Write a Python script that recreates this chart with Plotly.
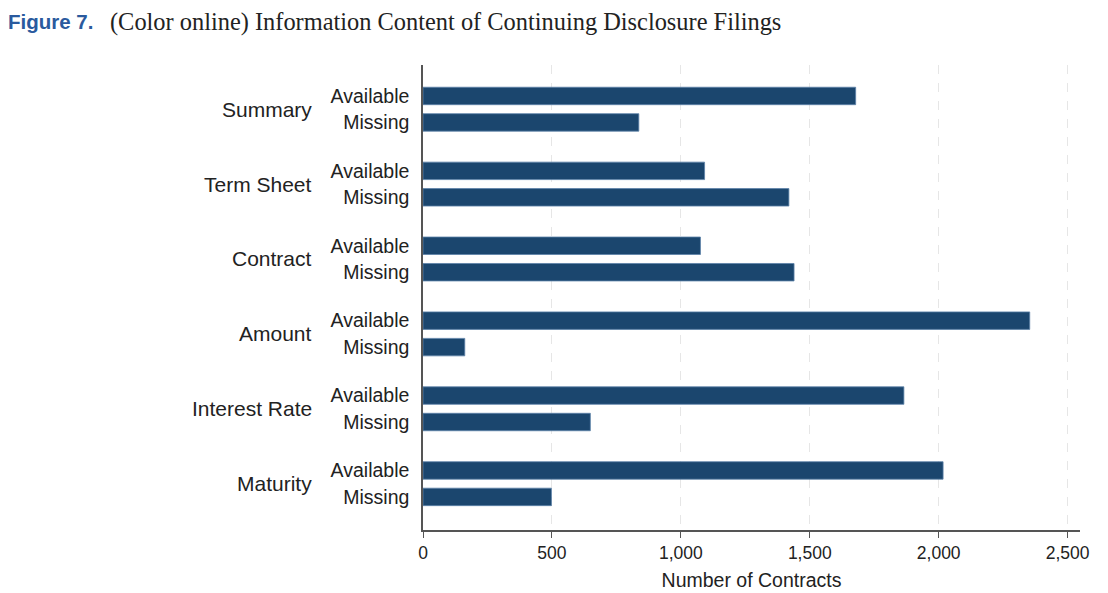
import plotly.graph_objects as go

groups = ["Summary", "Term Sheet", "Contract", "Amount", "Interest Rate", "Maturity"]
inner = ["Available", "Missing"]
available = [1678, 1092, 1076, 2353, 1865, 2017]
missing = [837, 1419, 1439, 162, 649, 498]
x_ticks = [0, 500, 1000, 1500, 2000, 2500]

GROUP_STEP = 2.83
pos, vals, labels = [], [], []
for g, (a, m) in enumerate(zip(available, missing)):
    for k, v in enumerate((a, m)):
        pos.append(g * GROUP_STEP + k)
        vals.append(v)
        labels.append(inner[k])

W, H = 1100, 585
L, R, T, B = 415, 28, 57, 63
PW, PH = W - L - R, H - T - B

BAR = "#1b466e"
fig = go.Figure(go.Bar(
    x=vals, y=pos, orientation="h", width=0.66,
    marker=dict(color=BAR, line=dict(color="#5c82a8", width=0.8)),
    showlegend=False,
))

fig.update_layout(
    width=W, height=H,
    margin=dict(l=L, r=R, t=T, b=B, autoexpand=False),
    paper_bgcolor="white", plot_bgcolor="white",
    font=dict(family="Liberation Sans, Arial, sans-serif", color="#222"),
    xaxis=dict(
        range=[0, 2548], tickvals=x_ticks, tickformat=",",
        tickfont=dict(size=17.5, color="#222"), automargin=False,
        showgrid=True, gridcolor="#e6e6e6", griddash="dash", gridwidth=1,
        zeroline=False, showline=True, linecolor="#555", linewidth=1.5,
        ticks="outside", ticklen=6, tickcolor="#555",
        title=dict(text="Number of Contracts", font=dict(size=19.5, color="#222"), standoff=12),
    ),
    yaxis=dict(
        range=[5 * GROUP_STEP + 1 + 1.25, -1.17], automargin=False,
        tickvals=pos, ticktext=labels, tickfont=dict(size=19.5, color="#222"),
        showgrid=False, zeroline=False, showline=True, linecolor="#555", linewidth=1.5,
        ticks="", ticklabelstandoff=8,
    ),
)

for g, name in enumerate(groups):
    fig.add_annotation(
        text=name, xref="paper", yref="y", x=0, y=g * GROUP_STEP + 0.5,
        xanchor="right", yanchor="middle", xshift=-109, showarrow=False,
        font=dict(size=21, color="#222", family="Liberation Sans, Arial, sans-serif"),
    )

title_y = 1 + (T - 14) / PH
fig.add_annotation(
    text="<b>Figure 7.</b>", xref="paper", yref="paper",
    x=(-2 - L) / PW, y=title_y, xanchor="left", yanchor="middle", showarrow=False,
    font=dict(size=20.5, color="#2a5a9e", family="Liberation Sans, Arial, sans-serif"),
)
fig.add_annotation(
    text="(Color online) Information Content of Continuing Disclosure Filings",
    xref="paper", yref="paper",
    x=(100 - L) / PW, y=title_y,
    xanchor="left", yanchor="middle", showarrow=False,
    font=dict(size=24.4, color="#222", family="Liberation Serif, Times New Roman, serif"),
)

fig.write_html("out.html")
